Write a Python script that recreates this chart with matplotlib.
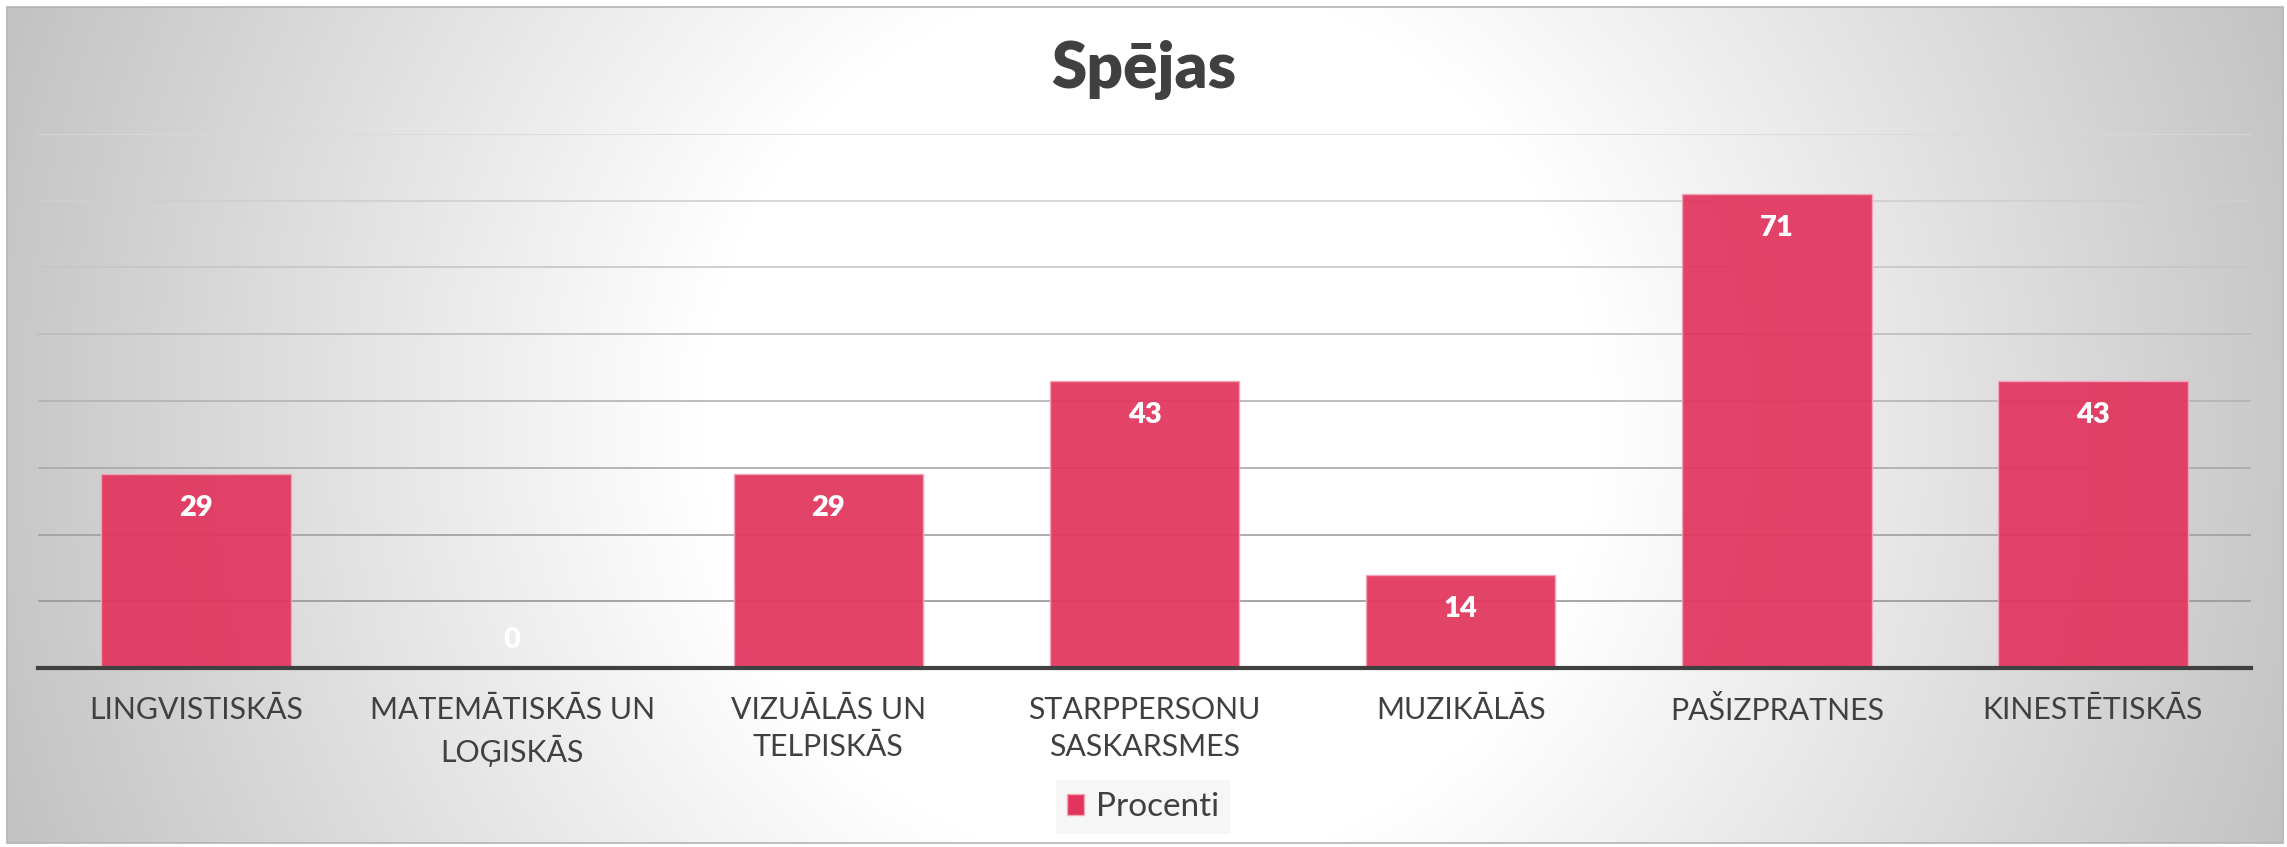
import numpy as np
import matplotlib
matplotlib.use('Agg')
import matplotlib.pyplot as plt
from matplotlib.patches import Rectangle, Patch

categories = ["LINGVISTISKĀS", "MATEMĀTISKĀS UN\nLOĢISKĀS", "VIZUĀLĀS UN\nTELPISKĀS",
              "STARPPERSONU\nSASKARSMES", "MUZIKĀLĀS", "PAŠIZPRATNES", "KINESTĒTISKĀS"]
values = [29, 0, 29, 43, 14, 71, 43]
series_name = "Procenti"
title = "Spējas"
y_ticks = [0, 10, 20, 30, 40, 50, 60, 70, 80]

plt.rcParams['font.family'] = ['Lato', 'DejaVu Sans']

W, H = 2287, 847
fig = plt.figure(figsize=(W / 100, H / 100), dpi=100)
fig.patch.set_facecolor('white')

# background radial gradient
bg = fig.add_axes([0, 0, 1, 1])
bg.set_axis_off()
yy, xx = np.mgrid[0:H, 0:W]
r = np.hypot(xx - 1150, yy - 423)
t = np.clip((r - 450) / 800, 0, 1)
g = 1 - 0.25 * t
img = np.dstack([g, g, g])
bg.imshow(img[7:843, 7:2283], extent=[7, 2283, 843, 7], interpolation='bilinear')
bg.add_patch(Rectangle((7, 7), 2276, 836, fill=False, edgecolor='#b4b4b4', linewidth=1.2))
bg.set_xlim(0, W)
bg.set_ylim(H, 0)

ax = fig.add_axes([38 / W, 1 - 668 / H, 2213 / W, (668 - 134) / H])
ax.patch.set_alpha(0)
x = np.arange(len(categories))
ax.bar(x, values, width=0.6, color='#E2355D', alpha=0.93,
       edgecolor='#F4A5B8', linewidth=1.0, zorder=3, label=series_name)
ax.set_xlim(-0.5, len(categories) - 0.5)
ax.set_ylim(0, 80)
ax.set_yticks(y_ticks)
ax.tick_params(axis='y', length=0, labelleft=False)
ax.yaxis.grid(True, zorder=0)
gl = ax.get_ygridlines()
for i, line in enumerate(gl):
    frac = i / (len(gl) - 1)
    c = 0.55 + 0.30 * frac
    line.set_color((c, c, c))
    line.set_linewidth(1.2)
for s in ['top', 'left', 'right']:
    ax.spines[s].set_visible(False)
ax.spines['bottom'].set_color('#404040')
ax.spines['bottom'].set_linewidth(3)
ax.spines['bottom'].set_zorder(4)
ax.set_xticks(x)
ax.set_xticklabels(categories, fontsize=21.8, color='#404040', linespacing=1.42)
ax.tick_params(axis='x', length=0, pad=20)

for i, v in enumerate(values):
    if v > 0:
        ax.annotate(str(v), (i, v), xytext=(0, -24.5), textcoords='offset points',
                    ha='center', va='center', color='white', fontsize=21,
                    fontweight='heavy', zorder=5)
    else:
        ax.annotate(str(v), (i, v), xytext=(0, 20), textcoords='offset points',
                    ha='center', va='center', color='white', fontsize=21,
                    fontweight='heavy', zorder=5)

fig.text(0.5, 1 - 70 / H, title, ha='center', va='center', fontsize=46,
         fontweight='heavy', color='#404040')

leg = fig.legend(handles=[Patch(facecolor='#E2355D', edgecolor='#F4A5B8', label=series_name)],
                 loc='center', bbox_to_anchor=(1143 / W, 1 - 807 / H), fontsize=24,
                 frameon=True, handlelength=0.5, handleheight=0.6, handletextpad=0.35,
                 borderpad=0.35, fancybox=False)
leg.get_frame().set_facecolor('#f4f4f4')
leg.get_frame().set_edgecolor('none')
for txt in leg.get_texts():
    txt.set_color('#404040')

fig.savefig('out.png', dpi=100)
